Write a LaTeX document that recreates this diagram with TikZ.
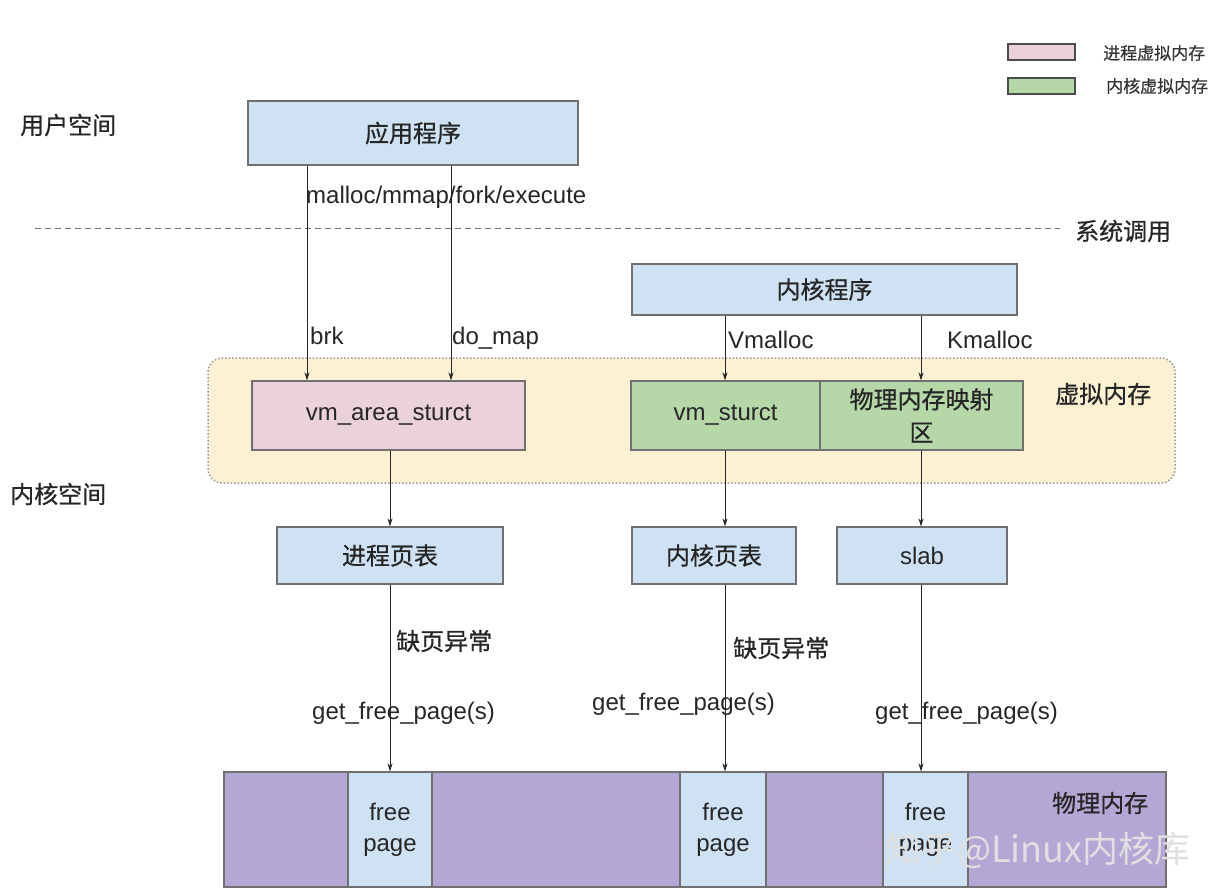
\documentclass[tikz,border=0pt]{standalone}
\usepackage{fontspec}
\setmainfont{Liberation Sans}
\newfontfamily\cjk[FakeBold=0.7]{Noto Sans CJK SC}
\newfontfamily\cjkwm{Noto Sans CJK SC}
\usetikzlibrary{arrows.meta}
\definecolor{boxblue}{HTML}{CFE2F3}
\definecolor{boxpink}{HTML}{EAD1DC}
\definecolor{boxgreen}{HTML}{B6D7A8}
\definecolor{vmyellow}{HTML}{FDF1D3}
\definecolor{physpurple}{HTML}{B4A7D6}
\definecolor{edgegray}{HTML}{707070}
\begin{document}
\begin{tikzpicture}[x=1pt,y=-1pt,
  txt/.style={font=\fontsize{24}{29}\selectfont, inner sep=0pt, text=black!85},
  cntxt/.style={font=\cjk\fontsize{24}{29}\selectfont, inner sep=0pt, text=black!85},
  box/.style={draw=edgegray, line width=1.2pt, fill=boxblue, inner sep=0pt, align=center},
  arr/.style={-{Stealth[length=8pt,width=5pt]}, line width=0.8pt, draw=black!85},
  legbox/.style={draw=black!70, line width=1.2pt, minimum width=67pt, minimum height=16pt, inner sep=0pt},
  legtxt/.style={font=\cjk\fontsize{17}{20}\selectfont, inner sep=0pt, anchor=west, text=black!80}
]
\useasboundingbox (0,0) rectangle (1228,890);
\fill[white] (0,0) rectangle (1228,890);

% legend
\node[legbox, fill=boxpink] (legp) at (1041.5,52) {};
\node[legbox, fill=boxgreen] (legg) at (1041.5,86) {};
\node[legtxt] (legpt) at (1103,53) {进程虚拟内存};
\node[legtxt] (leggt) at (1106,86) {内核虚拟内存};

% side labels
\node[cntxt, anchor=west] (user) at (20,125) {用户空间};
\node[cntxt, anchor=west] (kern) at (10,494) {内核空间};
\node[cntxt, anchor=west] (sys) at (1075,231) {系统调用};

% dashed syscall line
\draw[edgegray, line width=1pt, dash pattern=on 6pt off 4pt] (35,229) -- (1060,229);

% virtual memory region
\node[draw=black!40, dotted, line width=1.5pt, fill=vmyellow, rounded corners=14pt,
      minimum width=967pt, minimum height=125pt, inner sep=0pt] (vmem) at (691.5,420.5) {};
\node[cntxt, anchor=west] (vmemlbl) at (1055,394) {虚拟内存};

% top boxes
\node[box, cntxt, minimum width=330pt, minimum height=64pt] (app) at (413,133) {应用程序};
\node[box, cntxt, minimum width=385pt, minimum height=51pt] (kprog) at (824.5,289.5) {内核程序};

% virtual memory boxes
\node[box, txt, fill=boxpink, minimum width=273pt, minimum height=69pt] (vma) at (388.5,415.5) {vm\_area\_sturct};
\node[box, txt, fill=boxgreen, minimum width=189pt, minimum height=69pt] (vms) at (725.5,415.5) {vm\_sturct};
\node[box, cntxt, fill=boxgreen, minimum width=203pt, minimum height=69pt, font=\cjk\fontsize{24}{33}\selectfont] (pmap) at (921.5,415.5) {物理内存映射\\区};

% page table boxes
\node[box, cntxt, minimum width=226pt, minimum height=57pt] (ppt) at (390,555.5) {进程页表};
\node[box, cntxt, minimum width=164pt, minimum height=57pt] (kpt) at (714,555.5) {内核页表};
\node[box, txt, minimum width=170pt, minimum height=57pt] (slab) at (922,555.5) {slab};

% physical memory
\node[box, fill=physpurple, minimum width=942pt, minimum height=115pt] (phys) at (695,829.5) {};
\node[box, txt, minimum width=84pt, minimum height=115pt, font=\fontsize{24}{31}\selectfont] (fp1) at (390,829.5) {free\\page};
\node[box, txt, minimum width=86pt, minimum height=115pt, font=\fontsize{24}{31}\selectfont] (fp2) at (723,829.5) {free\\page};
\node[box, txt, minimum width=85pt, minimum height=115pt, font=\fontsize{24}{31}\selectfont] (fp3) at (925.5,829.5) {free\\page};
\node[cntxt, anchor=west] (physlbl) at (1052,803) {物理内存};

% connector x positions
\coordinate (xb) at (307,0);
\coordinate (xd) at (451,0);
\coordinate (xv) at (725,0);
\coordinate (xk) at (921,0);
\coordinate (xp) at (390,0);

% arrows
\draw[arr] (app.south -| xb) -- (vma.north -| xb);
\draw[arr] (app.south -| xd) -- (vma.north -| xd);
\draw[arr] (kprog.south -| xv) -- (vms.north -| xv);
\draw[arr] (kprog.south -| xk) -- (pmap.north -| xk);
\draw[arr] (vma.south -| xp) -- (ppt.north -| xp);
\draw[arr] (vms.south -| xv) -- (kpt.north -| xv);
\draw[arr] (pmap.south -| xk) -- (slab.north -| xk);
\draw[arr] (ppt.south -| xp) -- (fp1.north -| xp);
\draw[arr] (kpt.south -| xv) -- (fp2.north -| xv);
\draw[arr] (slab.south -| xk) -- (fp3.north -| xk);

% labels
\node[txt, anchor=west] (l1) at (306,197) {malloc/mmap/fork/execute};
\node[txt, anchor=west] (l2) at (310,336) {brk};
\node[txt, anchor=west] (l3) at (452,338) {do\_map};
\node[txt, anchor=west] (l4) at (728,340) {Vmalloc};
\node[txt, anchor=west] (l5) at (947,340) {Kmalloc};
\node[cntxt, anchor=west] (l6) at (396,641) {缺页异常};
\node[cntxt, anchor=west] (l7) at (733,648) {缺页异常};
\node[txt, anchor=west] (l8) at (312,713) {get\_free\_page(s)};
\node[txt, anchor=west] (l9) at (592,704) {get\_free\_page(s)};
\node[txt, anchor=west] (l10) at (875,713) {get\_free\_page(s)};

% watermark
\node[anchor=west, inner sep=0pt, text=white!88!black, font=\cjkwm\fontsize{36}{40}\selectfont] (wm) at (885,850) {知乎@Linux内核库};
\end{tikzpicture}
\end{document}
